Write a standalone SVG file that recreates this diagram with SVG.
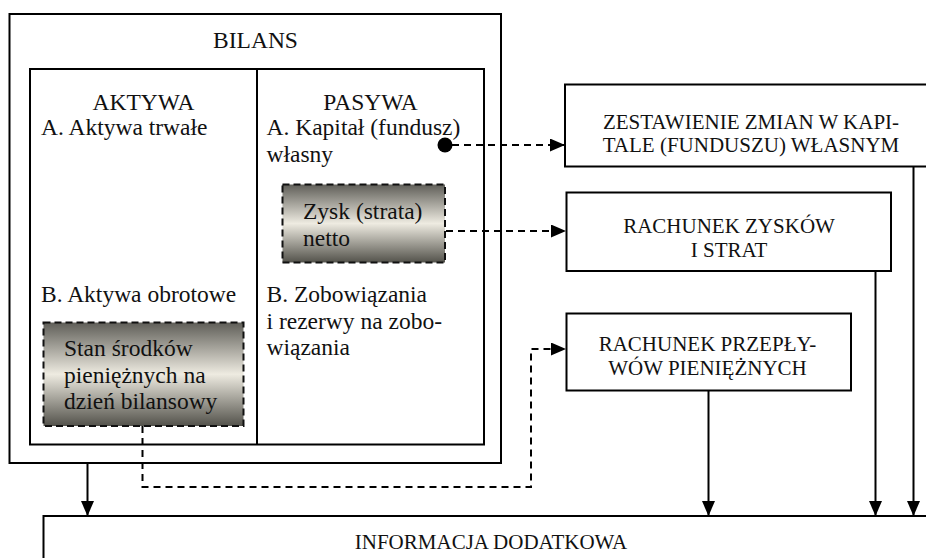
<svg xmlns="http://www.w3.org/2000/svg" width="926" height="558" viewBox="0 0 926 558">
<style>
  .box{fill:#fff;stroke:#000;stroke-width:2}
  .frame{fill:none;stroke:#000;stroke-width:2}
  .shade{fill:url(#shade);stroke:#111;stroke-width:2;stroke-dasharray:7 4}
  .t{font-family:"Liberation Serif","Times New Roman",serif;font-size:23.5px;fill:#111}
  .r{font-family:"Liberation Serif","Times New Roman",serif;font-size:21px;fill:#111;text-anchor:middle}
  .c{text-anchor:middle}
  .dash{fill:none;stroke:#000;stroke-width:2;stroke-dasharray:7 5}
  .solid{fill:none;stroke:#000;stroke-width:2}
</style>
<defs>
  <linearGradient id="shade" x1="0" y1="0" x2="0" y2="1">
    <stop offset="0" stop-color="#5f5e58"/>
    <stop offset="0.5" stop-color="#eeebe1"/>
    <stop offset="1" stop-color="#53524b"/>
  </linearGradient>
  <marker id="arrow" viewBox="0 0 15 13" refX="15" refY="6.5" markerWidth="15" markerHeight="13" markerUnits="userSpaceOnUse" orient="auto">
    <path d="M0,0 L15,6.5 L0,13 Z" fill="#000"/>
  </marker>
</defs>

<g id="bilans">
  <rect class="box" x="9.5" y="14" width="491.5" height="449"/>
  <text class="t c" x="255.5" y="47.5">BILANS</text>
  <rect class="frame" x="30" y="69" width="454" height="375.5"/>
  <line class="solid" x1="257" y1="69" x2="257" y2="444.5"/>
</g>

<g id="aktywa">
  <text class="t c" x="143.5" y="109.5">AKTYWA</text>
  <text class="t" x="41" y="135">A. Aktywa trwałe</text>
  <text class="t" x="41" y="301.5">B. Aktywa obrotowe</text>
</g>

<g id="pasywa">
  <text class="t c" x="370.5" y="109.5">PASYWA</text>
  <text class="t" x="266.5" y="135">A. Kapitał (fundusz)</text>
  <text class="t" x="266.5" y="161.5">własny</text>
  <text class="t" x="266.5" y="302">B. Zobowiązania</text>
  <text class="t" x="266.5" y="328.5">i rezerwy na zobo-</text>
  <text class="t" x="266.5" y="355">wiązania</text>
</g>

<g id="zysk">
  <rect class="shade" x="282.5" y="184.5" width="162.5" height="78"/>
  <text class="t" x="303" y="218.5">Zysk (strata)</text>
  <text class="t" x="303" y="245.5">netto</text>
</g>

<g id="stan">
  <rect class="shade" x="43.5" y="322.5" width="200" height="103.5"/>
  <text class="t" x="64" y="356">Stan środków</text>
  <text class="t" x="64" y="382.5">pieniężnych na</text>
  <text class="t" x="64" y="409">dzień bilansowy</text>
</g>

<g id="zestawienie">
  <rect class="box" x="565" y="84.5" width="375" height="82"/>
  <text class="r" x="751" y="128.5">ZESTAWIENIE ZMIAN W KAPI-</text>
  <text class="r" x="751" y="152">TALE (FUNDUSZU) WŁASNYM</text>
</g>

<g id="rzis">
  <rect class="box" x="566.5" y="192.5" width="324.5" height="78.5"/>
  <text class="r" x="729" y="232.5">RACHUNEK ZYSKÓW</text>
  <text class="r" x="729" y="256.5">I STRAT</text>
</g>

<g id="przeplywy">
  <rect class="box" x="566.5" y="313.5" width="284.5" height="77"/>
  <text class="r" x="707.5" y="350.5">RACHUNEK PRZEPŁY-</text>
  <text class="r" x="707.5" y="374.5">WÓW PIENIĘŻNYCH</text>
</g>

<g id="informacja">
  <rect class="box" x="43.5" y="516" width="900" height="60"/>
  <text class="r" x="491" y="548.5">INFORMACJA DODATKOWA</text>
</g>

<g id="connectors">
  <circle cx="445" cy="145" r="7.5" fill="#000"/>
  <path class="dash" d="M452,145 H565" marker-end="url(#arrow)"/>
  <path class="dash" d="M446,231 H566" marker-end="url(#arrow)"/>
  <path class="dash" d="M142.5,426 V487 H531 V349 H566" marker-end="url(#arrow)"/>
  <path class="solid" d="M87.5,463 V516" marker-end="url(#arrow)"/>
  <path class="solid" d="M708.5,390.5 V516" marker-end="url(#arrow)"/>
  <path class="solid" d="M875.5,271 V516" marker-end="url(#arrow)"/>
  <path class="solid" d="M913.5,166.5 V516" marker-end="url(#arrow)"/>
</g>
</svg>
